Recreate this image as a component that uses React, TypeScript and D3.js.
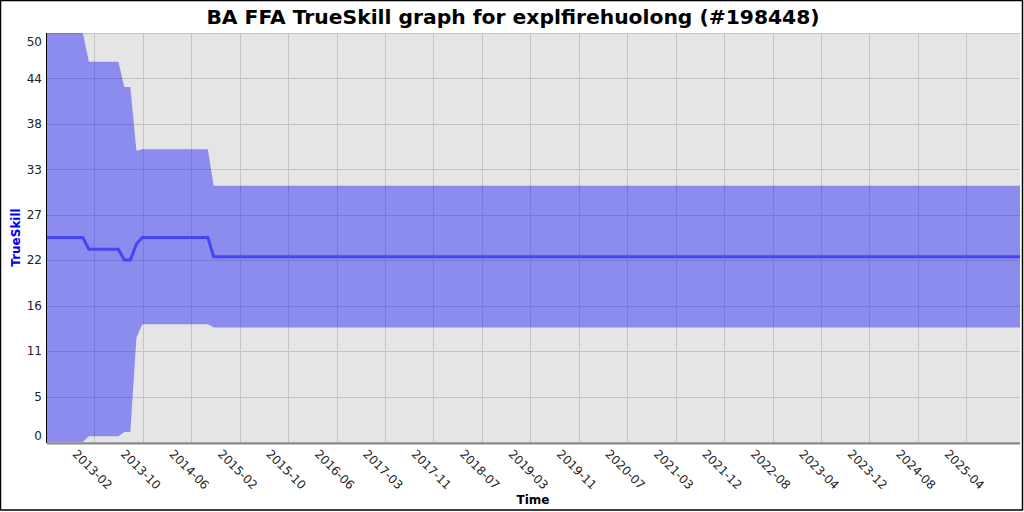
import React, { useEffect, useRef } from "react";
import * as d3 from "d3";

const W = 1024;
const H = 512;

// rating snapshots (monthly samples where values change)
const dates = [
  "2012-06-11", "2012-12-11", "2013-01-11", "2013-06-11", "2013-07-11",
  "2013-08-11", "2013-09-11", "2013-10-11", "2014-09-11", "2014-10-11", "2026-01-22",
];
const mu = [25.0, 25.0, 23.55, 23.55, 22.25, 22.25, 24.2, 25.0, 25.0, 22.65, 22.65];
const upper = [50.0, 50.0, 46.5, 46.5, 43.4, 43.4, 35.6, 35.8, 35.8, 31.33, 31.33];
const lower = [0.0, 0.0, 0.7, 0.7, 1.22, 1.22, 12.75, 14.4, 14.4, 14.0, 14.0];

const xTickLabels = [
  "2013-02", "2013-10", "2014-06", "2015-02", "2015-10", "2016-06", "2017-03",
  "2017-11", "2018-07", "2019-03", "2019-11", "2020-07", "2021-03", "2021-12",
  "2022-08", "2023-04", "2023-12", "2024-08", "2025-04",
];
const xTickStart = "2013-02-08";
const xTickStepDays = 247.6;

const yTickLabels = ["0", "5", "11", "16", "22", "27", "33", "38", "44", "50"];
const yMax = 50;

const App = () => {
  const ref = useRef<SVGSVGElement>(null);

  useEffect(() => {
    const svg = d3.select(ref.current);
    svg.selectAll("*").remove();

    const margin = { top: 33, right: 4, bottom: 70, left: 47 };
    const x0 = margin.left,
      x1 = W - margin.right,
      y0 = margin.top,
      y1 = H - margin.bottom;

    const parse = d3.timeParse("%Y-%m-%d");
    const data = dates.map((d, i) => ({
      date: parse(d) as Date,
      mu: mu[i],
      hi: upper[i],
      lo: lower[i],
    }));

    const x_scale = d3
      .scaleTime()
      .domain([data[0].date, data[data.length - 1].date])
      .range([x0, x1]);
    const y_scale = d3.scaleLinear().domain([0, yMax]).range([y1, y0]);

    const t0 = parse(xTickStart) as Date;
    const xTicks = xTickLabels.map((lab, i) => ({
      lab,
      x: x_scale(new Date(t0.getTime() + i * xTickStepDays * 864e5)),
    }));
    const yTicks = yTickLabels.map((lab, i) => ({
      lab,
      y: y_scale((i * yMax) / (yTickLabels.length - 1)),
    }));

    // frame
    svg
      .append("rect")
      .attr("x", 0.5)
      .attr("y", 0.5)
      .attr("width", W - 2)
      .attr("height", H - 2.5)
      .attr("fill", "white")
      .attr("stroke", "black")
      .attr("stroke-width", 1.5);

    svg
      .append("text")
      .attr("x", 513)
      .attr("y", 24)
      .attr("text-anchor", "middle")
      .style("font-family", "DejaVu Sans")
      .style("font-size", "20.3px")
      .style("font-weight", "bold")
      .text("BA FFA TrueSkill graph for explfirehuolong (#198448)");

    svg
      .append("defs")
      .append("clipPath")
      .attr("id", "plot-clip")
      .append("rect")
      .attr("x", x0)
      .attr("y", y0)
      .attr("width", x1 - x0)
      .attr("height", y1 - y0);

    const plot = svg.append("g");
    plot
      .append("rect")
      .attr("x", x0)
      .attr("y", y0)
      .attr("width", x1 - x0)
      .attr("height", y1 - y0)
      .attr("fill", "#e5e5e5");

    plot
      .selectAll(".vgrid")
      .data(xTicks)
      .join("line")
      .attr("class", "vgrid")
      .attr("x1", (d) => Math.round(d.x) + 0.5)
      .attr("x2", (d) => Math.round(d.x) + 0.5)
      .attr("y1", y0)
      .attr("y2", y1)
      .attr("stroke", "#c4c4c4");

    plot
      .selectAll(".hgrid")
      .data(yTicks)
      .join("line")
      .attr("class", "hgrid")
      .attr("x1", x0)
      .attr("x2", x1)
      .attr("y1", (d) => Math.round(d.y) + 0.5)
      .attr("y2", (d) => Math.round(d.y) + 0.5)
      .attr("stroke", "#c4c4c4");

    const area = d3
      .area<any>()
      .x((d) => x_scale(d.date))
      .y0((d) => y_scale(d.lo))
      .y1((d) => y_scale(d.hi));
    const line = d3
      .line<any>()
      .x((d) => x_scale(d.date))
      .y((d) => y_scale(d.mu));

    const series = plot.append("g").attr("clip-path", "url(#plot-clip)");
    series
      .append("path")
      .attr("d", area(data))
      .attr("fill", "rgba(0,0,255,0.39)");
    series
      .append("path")
      .attr("d", line(data))
      .attr("fill", "none")
      .attr("stroke", "#4545f4")
      .attr("stroke-width", 3);

    // axis lines
    svg
      .append("line")
      .attr("x1", x0)
      .attr("x2", x1)
      .attr("y1", y1 + 1.5)
      .attr("y2", y1 + 1.5)
      .attr("stroke", "#888")
      .attr("stroke-width", 2);
    svg
      .append("line")
      .attr("x1", x0 - 0.5)
      .attr("x2", x0 - 0.5)
      .attr("y1", y0)
      .attr("y2", y1 + 1)
      .attr("stroke", "black");

    svg
      .selectAll(".ylab")
      .data(yTicks)
      .join("text")
      .attr("class", "ylab")
      .attr("x", 42)
      .attr("y", (d) => Math.min(Math.max(d.y, 42), 436))
      .attr("dy", "0.35em")
      .attr("text-anchor", "end")
      .style("font-family", "DejaVu Sans")
      .style("font-size", "12px")
      .style("fill", "#222")
      .text((d) => d.lab);

    svg
      .selectAll(".xlab")
      .data(xTicks)
      .join("text")
      .attr("class", "xlab")
      .attr("transform", (d) => `translate(${d.x - 2}, 469.5) rotate(45)`)
      .attr("dy", "0.35em")
      .attr("text-anchor", "middle")
      .style("font-family", "DejaVu Sans")
      .style("font-size", "12px")
      .style("fill", "#222")
      .text((d) => d.lab);

    svg
      .append("text")
      .attr("x", 533)
      .attr("y", 503.5)
      .attr("text-anchor", "middle")
      .style("font-family", "DejaVu Sans")
      .style("font-size", "12px")
      .style("font-weight", "bold")
      .text("Time");

    svg
      .append("text")
      .attr("transform", "translate(20, 237.5) rotate(-90)")
      .attr("text-anchor", "middle")
      .style("font-family", "DejaVu Sans")
      .style("font-size", "12px")
      .style("font-weight", "bold")
      .style("fill", "#0000f0")
      .text("TrueSkill");
  }, []);

  return (
    <svg
      ref={ref}
      width={W}
      height={H}
      style={{ position: "absolute", left: 0, top: 0 }}
    ></svg>
  );
};

export default App;
